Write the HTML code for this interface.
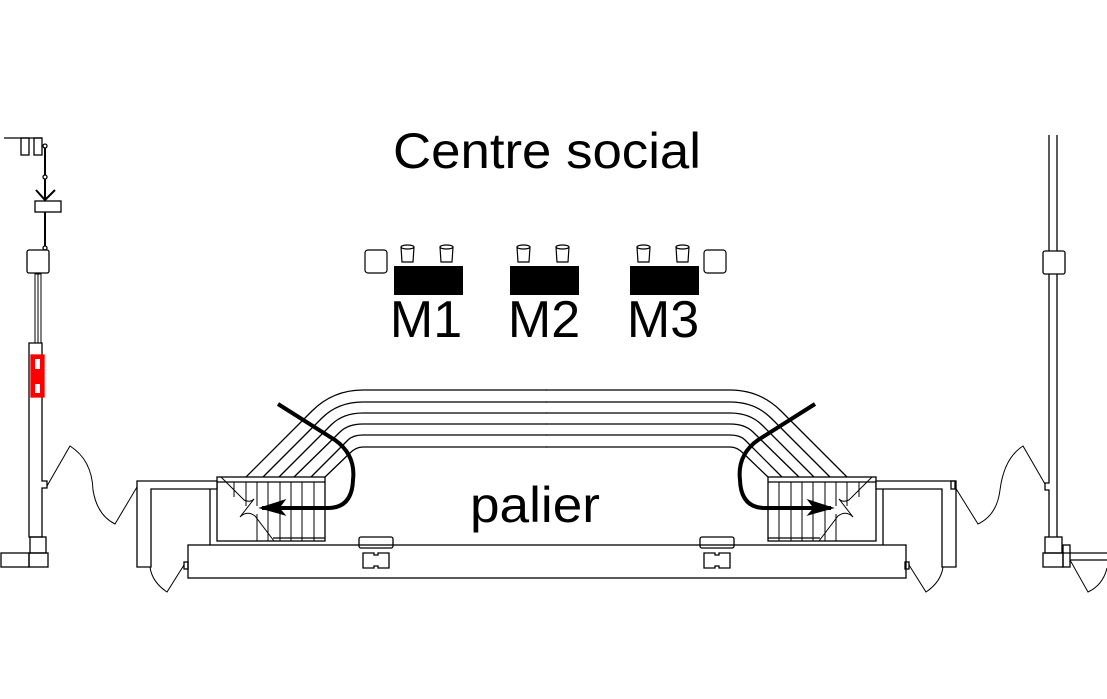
<!DOCTYPE html>
<html><head><meta charset="utf-8"><style>
html,body{margin:0;padding:0;background:#fff;}
svg{display:block;}
text{font-family:"Liberation Sans",sans-serif;fill:#000;}
</style></head><body>
<svg width="1107" height="699" viewBox="0 0 1107 699" xmlns="http://www.w3.org/2000/svg">
<defs>
<g id="half" fill="none" stroke="#000" stroke-width="1.3">
  <path d="M547,390 L363,390 Q333,390 312,411 L245,478"/>
  <path d="M547,402 L363,402 Q338,402 322,418 L262,478"/>
  <path d="M547,413 L363,413 Q343,413 331,425 L278,478"/>
  <path d="M547,424 L363,424 Q348,424 340,432 L293,478"/>
  <path d="M547,435 L363,435 Q353,435 348,440 L310,478"/>
  <path d="M547,447 L363,447 Q356,447 350,453 L324,478"/>
  <rect x="217" y="477" width="108" height="64" fill="#fff"/>
  <line x1="217" y1="482" x2="325" y2="482"/>
  <line x1="273" y1="538" x2="325" y2="538"/>
  <g stroke-width="1">
  <line x1="234" y1="482" x2="234" y2="497"/>
  <line x1="246" y1="482" x2="246" y2="506"/>
  <line x1="257" y1="482" x2="257" y2="506"/>
  <line x1="257" y1="514" x2="257" y2="541"/>
  <line x1="268" y1="482" x2="268" y2="541"/>
  <line x1="280" y1="482" x2="280" y2="541"/>
  <line x1="291" y1="482" x2="291" y2="541"/>
  <line x1="302" y1="482" x2="302" y2="541"/>
  <line x1="314" y1="482" x2="314" y2="541"/>
  <path d="M221,477 L244,500 Q250,503 254,499 L240,517 Q247,510 255,516 L274,541"/>
  </g>
  <path d="M278,404 L335,440 Q356,455 353,480 Q352,508 328,508 L262,508" stroke-width="4"/>
  <path d="M260,508 L285,500 L279,508 L285,515 Z" fill="#000" stroke-width="1"/>
  <path d="M137,481 H217 V489 H151 V567 H137 Z" fill="#fff"/>
  <line x1="210" y1="489" x2="210" y2="545"/>
  <rect x="359" y="537" width="34" height="11" rx="2"/>
  <path d="M363,553 H374 V555 H378 V553 H389 V568 H378 V566 H374 V568 H363 Z"/>
  <rect x="184" y="562" width="4" height="7"/>
  <path d="M184,565 L167,592 Q152,582 150,567" stroke-width="1"/>
</g>
</defs>
<rect x="188" y="545" width="718" height="33" fill="none" stroke="#000" stroke-width="1.3"/>
<use href="#half"/>
<use href="#half" transform="translate(1093,0) scale(-1,1)"/>

<g fill="none" stroke="#000" stroke-width="1.3">
  <line x1="4" y1="138" x2="42" y2="138"/>
  <rect x="21" y="138" width="8" height="17"/>
  <rect x="34" y="138" width="8" height="17"/>
  <line x1="45" y1="145" x2="45" y2="201" stroke-width="2"/>
  <circle cx="45" cy="146" r="2" fill="#fff"/>
  <circle cx="45" cy="177" r="2" fill="#fff"/>
  <path d="M36,190 L45,200 L55,190" stroke-width="2"/>
  <rect x="35" y="201" width="26" height="11"/>
  <line x1="45" y1="212" x2="45" y2="249" stroke-width="2"/>
  <circle cx="45" cy="248" r="2" fill="#fff"/>
  <rect x="27" y="250" width="22" height="23" rx="2"/>
  <rect x="35" y="274" width="6" height="69" stroke-width="1"/>
  <line x1="38" y1="274" x2="38" y2="343" stroke-width="1"/>
  <path d="M29,343 H42 V481 H47 V488 H42 V537 H29 Z"/>
  <rect x="31" y="355" width="13" height="42" fill="#f00" stroke="#f00"/>
  <rect x="35" y="359" width="5" height="10" fill="#fff" stroke="none"/>
  <rect x="35" y="384" width="5" height="9" fill="#fff" stroke="none"/>
  <rect x="30" y="537" width="16" height="16"/>
  <rect x="1" y="553" width="28" height="14"/>
  <rect x="29" y="553" width="19" height="14"/>
  <path d="M47,486 L70,446 Q92,460 93,490 Q97,515 115,524 L137,487" stroke-width="1"/>
</g>

<g fill="none" stroke="#000" stroke-width="1.3">
  <line x1="1049" y1="135" x2="1049" y2="251"/>
  <line x1="1057" y1="135" x2="1057" y2="251"/>
  <rect x="1043" y="251" width="22" height="23" rx="2"/>
  <path d="M1049,274 V483 H1045 V490 H1049 V537 M1057,274 V537"/>
  <rect x="1045" y="537" width="17" height="16"/>
  <rect x="1043" y="553" width="20" height="14"/>
  <rect x="1063" y="545" width="7" height="22"/>
  <line x1="1063" y1="553" x2="1107" y2="553"/>
  <line x1="1070" y1="560" x2="1107" y2="560"/>
  <rect x="951" y="481" width="4" height="8"/>
  <path d="M1045,484 L1023,446 Q1004,458 1000,490 Q997,515 978,524 L955,487" stroke-width="1"/>
  <path d="M1070,560 L1088,592 Q1103,585 1107,568" stroke-width="1"/>
</g>

<g fill="#000">
  <rect x="394" y="266" width="69" height="29"/>
  <rect x="510" y="266" width="69" height="29"/>
  <rect x="630" y="266" width="69" height="29"/>
</g>
<g fill="none" stroke="#000" stroke-width="1.2">
  <rect x="365" y="250" width="22" height="23" rx="3"/>
  <rect x="704" y="250" width="22" height="23" rx="3"/>
  <g id="cup"><path d="M401,247 L402,262 H413 L414,247"/><ellipse cx="407.5" cy="247" rx="6.5" ry="2"/></g>
  <use href="#cup" x="39"/>
  <use href="#cup" x="116"/>
  <use href="#cup" x="155"/>
  <use href="#cup" x="236"/>
  <use href="#cup" x="275"/>
</g>

<text x="547" y="168" font-size="50" text-anchor="middle" textLength="308" lengthAdjust="spacingAndGlyphs">Centre social</text>
<text x="426" y="337" font-size="52" text-anchor="middle">M1</text>
<text x="544" y="337" font-size="52" text-anchor="middle">M2</text>
<text x="663" y="337" font-size="52" text-anchor="middle">M3</text>
<text x="535" y="522" font-size="50" text-anchor="middle" textLength="130" lengthAdjust="spacingAndGlyphs">palier</text>
</svg>
</body></html>
